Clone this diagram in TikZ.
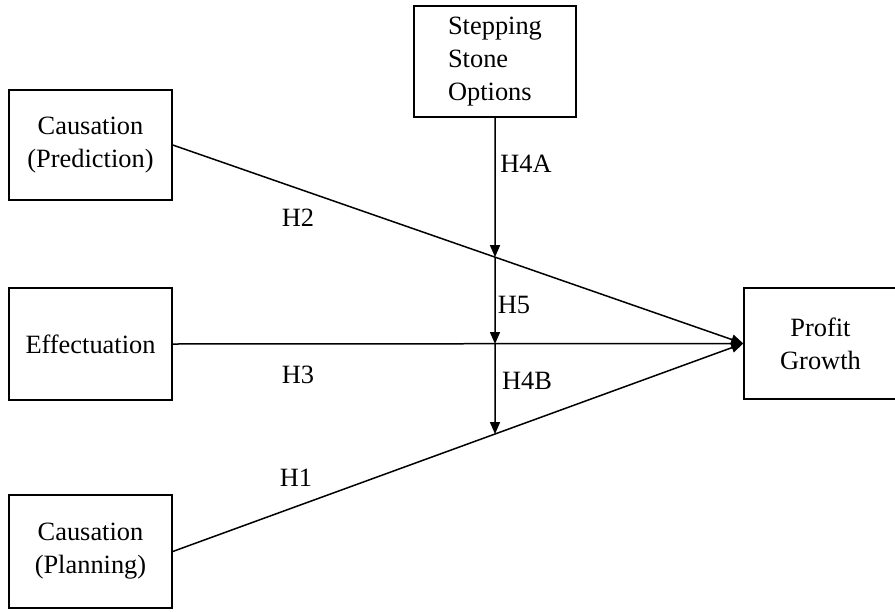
\documentclass[tikz,border=0pt]{standalone}
\usepackage{fontspec}
\setmainfont{Liberation Serif}
\usepackage{tikz}
\usetikzlibrary{arrows.meta,positioning,calc}
\tikzset{
	box/.style={draw, line width=0.75pt, minimum width=81.5pt, inner sep=0pt},
	hyp/.style={inner sep=1pt},
	link/.style={line width=0.75pt},
}

\begin{document}
\begin{tikzpicture}[x=0.5pt,y=-0.5pt,>={Triangle[length=6pt,width=5pt]},
		font=\fontsize{13.2}{16.5}\selectfont]
		\path[use as bounding box, clip] (0,0) rectangle (895,611);

		% boxes
		\node[box, minimum height=55pt, align=center] (pred) at (90.5,145) {Causation\\(Prediction)};
		\node[box, minimum height=56pt] (effect) at (90.5,344) {Effectuation};
		\node[box, minimum height=56.5pt, align=center] (plan) at (90.5,551.5) {Causation\\(Planning)};
		\node[box, minimum width=81pt, minimum height=55.5pt, align=left] (stone) at (495,61.5) {Stepping\\Stone\\Options};
		\node[box, minimum width=76.5pt, minimum height=55.5pt, align=center] (growth) at (820.5,343.5) {Profit\\Growth};

		% direct effects
		\draw[link,->] (pred.east) -- (growth.west);
		\draw[link,->] (effect.east) -- (growth.west);
		\draw[link,->] (plan.east) -- (growth.west);

		% moderation
		\coordinate (onpred) at (intersection of pred.east--growth.west and stone.south--{$(stone.south)+(0,500)$});
		\coordinate (oneff) at (stone.south |- effect.east);
		\coordinate (onplan) at (intersection of plan.east--growth.west and stone.south--{$(stone.south)+(0,500)$});
		\draw[link,->] (stone.south) -- (onpred);
		\draw[link,->] (onpred) -- (oneff);
		\draw[link,->] (oneff) -- (onplan);

		% labels
		\node[hyp] (h2) at (298,218) {H2};
		\node[hyp] (h3) at (298,375) {H3};
		\node[hyp] (h1) at (296,478) {H1};
		\node[hyp] (h4a) at (526,164) {H4A};
		\node[hyp] (h5) at (514,305) {H5};
		\node[hyp] (h4b) at (527,381) {H4B};
	\end{tikzpicture}
\end{document}
